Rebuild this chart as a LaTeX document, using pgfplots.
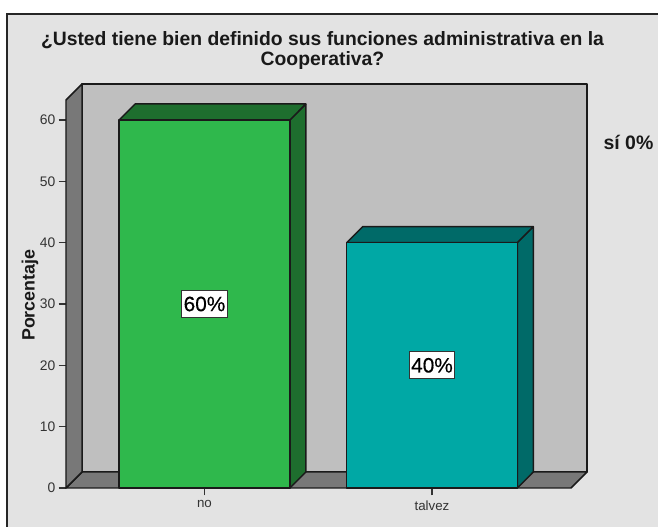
\documentclass[border=0pt]{standalone}
\usepackage{pgfplots}
\pgfplotsset{compat=1.18}
\usepackage{fontspec}
\setmainfont{Liberation Sans}
\newfontfamily\valuefont[FakeBold=0.4]{Liberation Sans}
\definecolor{panel}{HTML}{E3E3E3}
\definecolor{wall}{HTML}{BFBFBF}
\definecolor{floorc}{HTML}{787878}
\definecolor{greenF}{HTML}{2FB84C}
\definecolor{greenD}{HTML}{1E6E2E}
\definecolor{tealF}{HTML}{00A8A5}
\definecolor{tealD}{HTML}{006A68}
\definecolor{edge}{HTML}{1A1A1A}
\begin{document}
% page grid: 658 x 527 units at 0.75pt per unit
\begin{tikzpicture}[x=0.75pt,y=0.75pt]
\path[use as bounding box] (0,0) rectangle (658,527);
\fill[white] (0,0) rectangle (658,527);
\fill[panel] (7,0) rectangle (658,513);
\draw[line width=1.5pt,black!85] (7,0) -- (7,513) -- (658,513);
\node[font=\fontsize{14.5}{14.6}\selectfont\bfseries,align=center,anchor=center,text=black!90] at (322.5,476.5)
  {¿Usted tiene bien definido sus funciones administrativa en la\\Cooperativa?};
\node[font=\fontsize{14.6}{15}\selectfont\bfseries,anchor=center,text=black!90] at (628.5,384.5) {sí 0\%};
\begin{axis}[
  at={(49.5pt,29.25pt)},anchor=south west,scale only axis,
  width=378.75pt,height=291pt,
  xmin=-0.6088,xmax=1.6110,ymin=0,ymax=63.26,
  clip=false,axis line style={draw=none},
  xtick={0,1},xticklabels={no,talvez},
  ytick={0,10,20,30,40,50,60},
  tick style={draw=black!80,line width=0.8pt},
  tick align=outside,
  xtick pos=bottom,ytick pos=left,
  major tick length=5.5pt,
  every tick label/.append style={text=black!80},
  x tick label style={font=\fontsize{10}{11}\selectfont,yshift=-0.5pt},
  y tick label style={font=\fontsize{10.4}{11}\selectfont,xshift=1pt},
  /pgf/number format/assume math mode=true,
  ylabel={Porcentaje},
  ylabel style={font=\fontsize{13.4}{14}\selectfont\bfseries,text=black!90,at={(axis description cs:-0.0457,0.497)},anchor=south,rotate=0},
  faces/.style={draw=edge,line width=1.1pt,line join=round},
]
% back wall, left wall and floor
\addplot[faces,fill=wall] coordinates {(-0.5385,2.61) (1.6813,2.61) (1.6813,65.87) (-0.5385,65.87)} -- cycle;
\addplot[faces,fill=floorc] coordinates {(-0.6088,0) (1.6110,0) (1.6813,2.61) (-0.5385,2.61)} -- cycle;
\addplot[faces,fill=floorc] coordinates {(-0.6088,0) (-0.5385,2.61) (-0.5385,65.87) (-0.6088,63.26)} -- cycle;
% bar "no"
\addplot[faces,fill=greenD] coordinates {(0.375,0) (0.4453,2.61) (0.4453,62.61) (0.375,60)} -- cycle;
\addplot[faces,fill=greenD] coordinates {(-0.375,60) (0.375,60) (0.4453,62.61) (-0.3047,62.61)} -- cycle;
\addplot[faces,fill=greenF] coordinates {(-0.375,0) (0.375,0) (0.375,60) (-0.375,60)} -- cycle;
% bar "talvez"
\addplot[faces,fill=tealD] coordinates {(1.375,0) (1.4453,2.61) (1.4453,42.61) (1.375,40)} -- cycle;
\addplot[faces,fill=tealD] coordinates {(0.625,40) (1.375,40) (1.4453,42.61) (0.6953,42.61)} -- cycle;
\addplot[faces,fill=tealF] coordinates {(0.625,0) (1.375,0) (1.375,40) (0.625,40)} -- cycle;
% value labels
\node[draw=black!80,fill=white,line width=0.8pt,inner xsep=1.5pt,inner ysep=4.5pt,font=\fontsize{15.6}{16}\selectfont\valuefont,text=black] at (axis cs:0,30) {60\%};
\node[draw=black!80,fill=white,line width=0.8pt,inner xsep=1.5pt,inner ysep=4.5pt,font=\fontsize{15.6}{16}\selectfont\valuefont,text=black] at (axis cs:1,20) {40\%};
\end{axis}
\end{tikzpicture}
\end{document}
